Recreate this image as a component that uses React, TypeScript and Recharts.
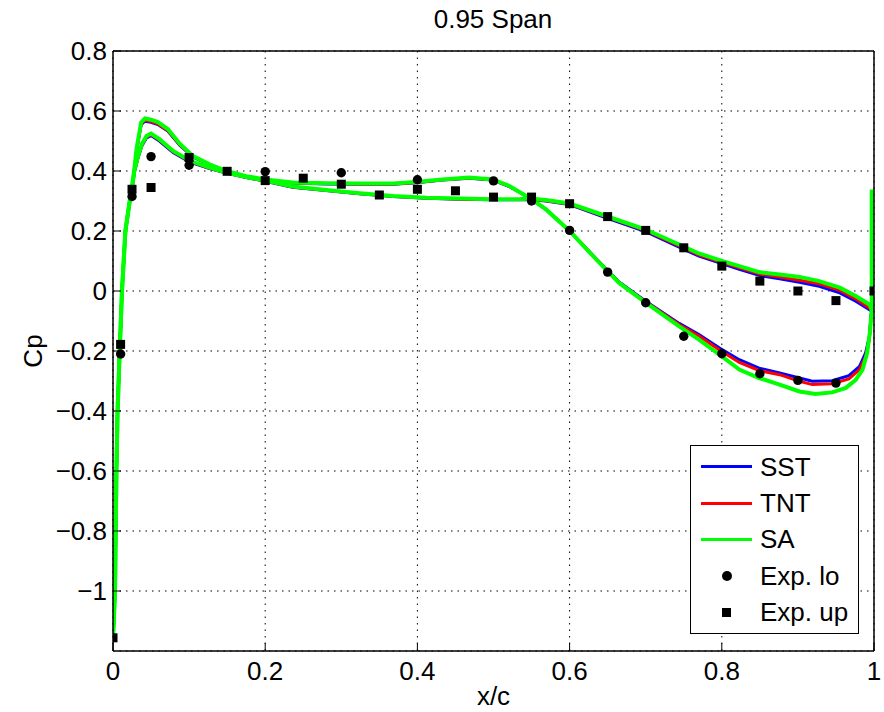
import {
  ComposedChart,
  Line,
  Scatter,
  XAxis,
  YAxis,
  CartesianGrid,
  Legend,
  Label,
} from "recharts"

const FONT = "'Liberation Sans', Arial, Helvetica, sans-serif"

const TITLE = "0.95 Span"
const X_TICKS = [0, 0.2, 0.4, 0.6, 0.8, 1]
const Y_TICKS = [0.8, 0.6, 0.4, 0.2, 0, -0.2, -0.4, -0.6, -0.8, -1]

type Pt = [number, number] // [x/c, Cp]

// leading edge rise, shared by all three models
const LE_RISE: Pt[] = [
  [0, -1.15], [0.001, -1.1], [0.0026, -1.0], [0.0045, -0.6], [0.006, -0.4],
  [0.0088, -0.2], [0.0118, 0], [0.0163, 0.2], [0.022, 0.3],
]

// lower surface (higher suction peak, drops off towards trailing edge)
const SA_LO: Pt[] = [
  [0.026, 0.36], [0.031, 0.475], [0.037, 0.562], [0.042, 0.575], [0.05, 0.571],
  [0.059, 0.563], [0.072, 0.54], [0.088, 0.49], [0.105, 0.45], [0.127, 0.422],
  [0.149, 0.4], [0.175, 0.383], [0.2, 0.372], [0.236, 0.362], [0.28, 0.359],
  [0.324, 0.358], [0.368, 0.358], [0.398, 0.363], [0.433, 0.372], [0.468, 0.378],
  [0.499, 0.372], [0.521, 0.35], [0.534, 0.33], [0.547, 0.311], [0.569, 0.272],
  [0.6, 0.2], [0.635, 0.105], [0.665, 0.027], [0.7, -0.039], [0.744, -0.118],
  [0.77, -0.162], [0.797, -0.212], [0.823, -0.262], [0.849, -0.29], [0.876, -0.312],
  [0.902, -0.335], [0.923, -0.343], [0.945, -0.338], [0.963, -0.323], [0.976, -0.296],
  [0.985, -0.262], [0.991, -0.206], [0.995, -0.129], [0.997, -0.06], [0.997, 0.1],
  [0.997, 0.338],
]
const SST_LO: Pt[] = [
  [0.026, 0.355], [0.031, 0.468], [0.037, 0.555], [0.042, 0.566], [0.05, 0.562],
  [0.059, 0.555], [0.072, 0.533], [0.088, 0.485], [0.105, 0.447], [0.127, 0.42],
  [0.149, 0.398], [0.175, 0.381], [0.2, 0.37], [0.236, 0.36], [0.28, 0.357],
  [0.324, 0.356], [0.368, 0.356], [0.398, 0.361], [0.433, 0.37], [0.468, 0.376],
  [0.499, 0.37], [0.521, 0.348], [0.534, 0.329], [0.547, 0.31], [0.569, 0.272],
  [0.6, 0.2], [0.635, 0.107], [0.665, 0.03], [0.7, -0.034], [0.744, -0.108],
  [0.77, -0.145], [0.797, -0.19], [0.823, -0.229], [0.849, -0.257], [0.876, -0.273],
  [0.902, -0.29], [0.919, -0.301], [0.945, -0.299], [0.967, -0.282], [0.981, -0.251],
  [0.989, -0.206], [0.994, -0.151], [0.996, -0.084], [0.997, -0.066],
]
const TNT_LO: Pt[] = [
  [0.026, 0.357], [0.031, 0.47], [0.037, 0.558], [0.042, 0.569], [0.05, 0.565],
  [0.059, 0.557], [0.072, 0.535], [0.088, 0.487], [0.105, 0.448], [0.127, 0.421],
  [0.149, 0.399], [0.175, 0.382], [0.2, 0.371], [0.236, 0.361], [0.28, 0.358],
  [0.324, 0.357], [0.368, 0.357], [0.398, 0.362], [0.433, 0.371], [0.468, 0.377],
  [0.499, 0.371], [0.521, 0.349], [0.534, 0.33], [0.547, 0.311], [0.569, 0.273],
  [0.6, 0.201], [0.635, 0.106], [0.665, 0.028], [0.7, -0.036], [0.744, -0.112],
  [0.77, -0.15], [0.797, -0.197], [0.823, -0.238], [0.849, -0.265], [0.876, -0.279],
  [0.902, -0.301], [0.919, -0.312], [0.945, -0.309], [0.967, -0.293], [0.981, -0.262],
  [0.989, -0.218], [0.994, -0.16], [0.996, -0.09], [0.997, -0.066],
]

// upper surface
const SA_UP: Pt[] = [
  [0.028, 0.4], [0.033, 0.45], [0.038, 0.49], [0.044, 0.517], [0.05, 0.525],
  [0.061, 0.506], [0.079, 0.467], [0.101, 0.434], [0.127, 0.411], [0.149, 0.395],
  [0.175, 0.38], [0.2, 0.368], [0.236, 0.348], [0.28, 0.337], [0.324, 0.326],
  [0.368, 0.317], [0.412, 0.311], [0.455, 0.308], [0.499, 0.306], [0.534, 0.306],
  [0.547, 0.308], [0.569, 0.303], [0.6, 0.292], [0.648, 0.25], [0.7, 0.205],
  [0.744, 0.155], [0.77, 0.125], [0.797, 0.103], [0.823, 0.083], [0.849, 0.063],
  [0.876, 0.055], [0.902, 0.047], [0.928, 0.033], [0.955, 0.011], [0.976, -0.017],
  [0.994, -0.045], [0.997, -0.06],
]
const SST_UP: Pt[] = [
  [0.028, 0.395], [0.033, 0.445], [0.038, 0.484], [0.044, 0.51], [0.05, 0.518],
  [0.061, 0.5], [0.079, 0.462], [0.101, 0.43], [0.127, 0.408], [0.149, 0.393],
  [0.175, 0.378], [0.2, 0.366], [0.236, 0.346], [0.28, 0.335], [0.324, 0.324],
  [0.368, 0.315], [0.412, 0.309], [0.455, 0.306], [0.499, 0.304], [0.534, 0.304],
  [0.547, 0.305], [0.569, 0.3], [0.6, 0.288], [0.648, 0.244], [0.7, 0.198],
  [0.744, 0.146], [0.77, 0.116], [0.797, 0.094], [0.823, 0.072], [0.849, 0.052],
  [0.876, 0.041], [0.902, 0.029], [0.928, 0.016], [0.955, -0.006], [0.976, -0.034],
  [0.994, -0.062], [0.997, -0.068],
]
const TNT_UP: Pt[] = [
  [0.028, 0.397], [0.033, 0.447], [0.038, 0.487], [0.044, 0.513], [0.05, 0.521],
  [0.061, 0.503], [0.079, 0.464], [0.101, 0.432], [0.127, 0.409], [0.149, 0.394],
  [0.175, 0.379], [0.2, 0.367], [0.236, 0.347], [0.28, 0.336], [0.324, 0.325],
  [0.368, 0.316], [0.412, 0.31], [0.455, 0.307], [0.499, 0.305], [0.534, 0.305],
  [0.547, 0.306], [0.569, 0.301], [0.6, 0.29], [0.648, 0.247], [0.7, 0.201],
  [0.744, 0.15], [0.77, 0.12], [0.797, 0.098], [0.823, 0.077], [0.849, 0.057],
  [0.876, 0.047], [0.902, 0.036], [0.928, 0.024], [0.955, 0.002], [0.976, -0.026],
  [0.994, -0.057], [0.997, -0.066],
]

// experiment
const EXP_LO_X = [0.01, 0.025, 0.05, 0.1, 0.2, 0.3, 0.4, 0.5, 0.55, 0.6, 0.65, 0.7, 0.75, 0.8, 0.85, 0.9, 0.95]
const EXP_LO_CP = [-0.21, 0.315, 0.448, 0.419, 0.398, 0.394, 0.371, 0.367, 0.3, 0.202, 0.063, -0.039, -0.151, -0.209, -0.276, -0.298, -0.307]
const EXP_UP_X = [0, 0.01, 0.025, 0.05, 0.1, 0.15, 0.2, 0.25, 0.3, 0.35, 0.4, 0.45, 0.5, 0.55, 0.6, 0.65, 0.7, 0.75, 0.8, 0.85, 0.9, 0.95, 1]
const EXP_UP_CP = [-1.156, -0.178, 0.339, 0.345, 0.445, 0.399, 0.368, 0.376, 0.356, 0.32, 0.339, 0.334, 0.313, 0.313, 0.291, 0.248, 0.202, 0.144, 0.083, 0.033, 0.0, -0.032, 0.0]

const toRows = (pts: Pt[]) => pts.map(([x, cp]) => ({ x, cp }))
const expRows = (xs: number[], cps: number[]) => xs.map((x, i) => ({ x, cp: cps[i] }))

const MODELS = [
  { name: "SST", color: "#0000ff", width: 3, lo: SST_LO, up: SST_UP },
  { name: "TNT", color: "#ff0000", width: 3, lo: TNT_LO, up: TNT_UP },
  { name: "SA", color: "#00ff00", width: 4, lo: SA_LO, up: SA_UP },
]

const fmtTick = (v: number) => (v < 0 ? "\u2212" + Math.abs(v) : String(v))

const tickStyle = { fill: "#000", fontSize: 26, fontFamily: FONT }
const frame = { stroke: "#000", strokeWidth: 1.5 }

function LegendBox() {
  const row = { height: 36.4, display: "flex", alignItems: "center" } as const
  const icon = { width: 67, display: "flex", justifyContent: "center", paddingLeft: 2 } as const
  return (
    <div
      style={{
        width: 169,
        height: 189,
        boxSizing: "border-box",
        border: "1.5px solid #000",
        background: "#fff",
        paddingTop: 2.5,
        fontFamily: FONT,
        fontSize: 26,
        color: "#000",
        lineHeight: 1,
      }}
    >
      {MODELS.map((m) => (
        <div key={m.name} style={row}>
          <div style={icon}>
            <div style={{ width: 51, height: 3, background: m.color }} />
          </div>
          <span>{m.name}</span>
        </div>
      ))}
      <div style={row}>
        <div style={icon}>
          <div style={{ width: 10, height: 10, borderRadius: 5, background: "#000" }} />
        </div>
        <span>Exp. lo</span>
      </div>
      <div style={row}>
        <div style={icon}>
          <div style={{ width: 9, height: 9, background: "#000" }} />
        </div>
        <span>Exp. up</span>
      </div>
    </div>
  )
}

export default function App() {
  return (
    <div style={{ position: "absolute", left: 0, top: 0, fontFamily: FONT }}>
      <ComposedChart
        width={884}
        height={712}
        margin={{ top: 50, right: 9, bottom: 0, left: 0 }}
        style={{ background: "#fff" }}
      >
        <CartesianGrid stroke="#000" strokeWidth={1} strokeDasharray="1.5 5" />
        <XAxis
          dataKey="x"
          type="number"
          domain={[0, 1]}
          ticks={X_TICKS}
          allowDataOverflow
          height={61}
          tickSize={-8}
          tickMargin={19}
          tick={tickStyle}
          tickFormatter={fmtTick}
          axisLine={frame}
          tickLine={{ stroke: "#000" }}
        >
          <Label value="x/c" position="insideBottom" offset={7} fill="#000" fontSize={26} />
        </XAxis>
        <XAxis
          xAxisId="top"
          orientation="top"
          type="number"
          domain={[0, 1]}
          ticks={X_TICKS}
          height={1}
          tickSize={-8}
          tick={false}
          axisLine={frame}
          tickLine={{ stroke: "#000" }}
        />
        <YAxis
          type="number"
          domain={[-1.2, 0.8]}
          ticks={Y_TICKS}
          allowDataOverflow
          width={113}
          tickSize={-8}
          tickMargin={14}
          tick={tickStyle}
          tickFormatter={fmtTick}
          axisLine={frame}
          tickLine={{ stroke: "#000" }}
        >
          <Label
            content={() => (
              <g fill="#000" fontSize={26} fontFamily={FONT}>
                <text transform="translate(42,351) rotate(-90)" textAnchor="middle">
                  Cp
                </text>
                <text x={493} y={28} textAnchor="middle">
                  {TITLE}
                </text>
              </g>
            )}
          />
        </YAxis>
        <YAxis
          yAxisId="right"
          orientation="right"
          type="number"
          domain={[-1.2, 0.8]}
          ticks={Y_TICKS}
          width={1}
          tickSize={-8}
          tick={false}
          axisLine={frame}
          tickLine={{ stroke: "#000" }}
        />

        {MODELS.flatMap((m) => [
          <Line
            key={m.name + "-up"}
            data={toRows([...LE_RISE, ...m.up])}
            dataKey="cp"
            type="linear"
            stroke={m.color}
            strokeWidth={m.width}
            dot={false}
            activeDot={false}
            isAnimationActive={false}
            legendType="none"
          />,
          <Line
            key={m.name + "-lo"}
            data={toRows([...LE_RISE, ...m.lo])}
            dataKey="cp"
            type="linear"
            stroke={m.color}
            strokeWidth={m.width}
            dot={false}
            activeDot={false}
            isAnimationActive={false}
            legendType="none"
          />,
        ])}

        <Scatter
          data={expRows(EXP_LO_X, EXP_LO_CP)}
          dataKey="cp"
          isAnimationActive={false}
          shape={(p: any) => <circle cx={p.cx} cy={p.cy} r={4.7} fill="#000" />}
        />
        <Scatter
          data={expRows(EXP_UP_X, EXP_UP_CP)}
          dataKey="cp"
          isAnimationActive={false}
          shape={(p: any) => <rect x={p.cx - 4.5} y={p.cy - 4.5} width={9} height={9} fill="#000" />}
        />

        <Legend
          layout="vertical"
          align="center"
          verticalAlign="middle"
          content={() => <LegendBox />}
          wrapperStyle={{ left: 690, top: 445, width: 169, height: 189 }}
        />
      </ComposedChart>
    </div>
  )
}
